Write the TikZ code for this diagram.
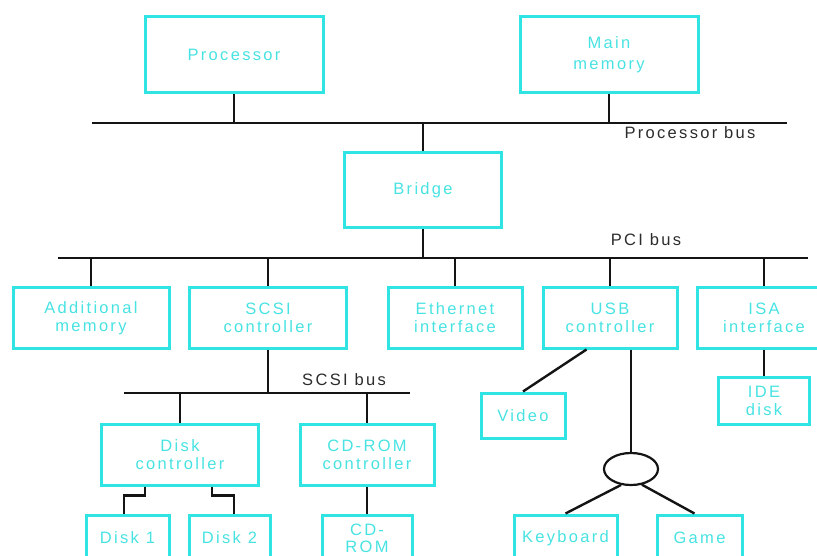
\documentclass[tikz,border=0pt]{standalone}
\usepackage{fontspec}
\setmainfont{Liberation Sans}[LetterSpace=14]
\usetikzlibrary{shapes.geometric,calc}
\definecolor{boxline}{RGB}{48,228,228}
\definecolor{boxtext}{RGB}{72,226,226}
\definecolor{wire}{RGB}{20,20,20}
\begin{document}
\begin{tikzpicture}[x=1pt,y=-1pt,
  unit/.style={draw=boxline, line width=3pt, text=boxtext, align=center,
    inner sep=0pt, font=\fontsize{16.5}{18}\selectfont},
  buslabel/.style={text=wire!90, font=\fontsize{16.5}{18}\selectfont, inner sep=0pt},
  link/.style={draw=wire, line width=2.4pt},
  busline/.style={draw=wire, line width=2.4pt}]
\useasboundingbox (0,0) rectangle (817,556);

% processor level
\node[unit, minimum width=178, minimum height=76] (proc) at (234,55) {Processor};
\node[unit, minimum width=178, minimum height=76, font=\fontsize{16.5}{21}\selectfont] (mem) at (609,55) {Main\\memory};
\coordinate (pbL) at (92,123);
\coordinate (pbR) at (787,123);
\draw[busline] (pbL) -- (pbR);
\node[buslabel] (pblabel) at (690,133) {Processor bus};

% bridge and PCI bus
\node[unit, minimum width=157, minimum height=75] (bridge) at (423,190.5) {Bridge};
\coordinate (pciL) at (58,258);
\coordinate (pciR) at (808,258);
\draw[busline] (pciL) -- (pciR);
\node[buslabel] (pcilabel) at (646,240) {PCI bus};

% PCI devices
\node[unit, minimum width=156, minimum height=60] (addmem) at (91,318) {Additional\\memory};
\node[unit, minimum width=157, minimum height=60] (scsi) at (268,318) {SCSI\\controller};
\node[unit, minimum width=134, minimum height=60] (eth) at (455,318) {Ethernet\\interface};
\node[unit, minimum width=134, minimum height=60] (usb) at (610,318) {USB\\controller};
\node[unit, minimum width=134, minimum height=60] (isa) at (764,318) {ISA\\interface};

% SCSI bus
\coordinate (scsiL) at (124,393);
\coordinate (scsiR) at (410,393);
\draw[busline] (scsiL) -- (scsiR);
\node[buslabel] (scsilabel) at (344,380) {SCSI bus};

\node[unit, minimum width=157, minimum height=61] (dctrl) at (180,454.5) {Disk\\controller};
\node[unit, minimum width=134, minimum height=61] (cdctrl) at (367,454.5) {CD-ROM\\controller};

\node[unit, minimum width=83, minimum height=46] (disk1) at (127.5,538) {Disk 1};
\node[unit, minimum width=81, minimum height=46] (disk2) at (229.5,538) {Disk 2};
\node[unit, minimum width=90, minimum height=46, font=\fontsize{16.5}{17}\selectfont] (cdrom) at (367,538) {CD-\\ROM};

% USB devices
\node[unit, minimum width=84, minimum height=45] (video) at (523,415.5) {Video};
\node[draw=wire, line width=2.2pt, ellipse, minimum width=54, minimum height=32, inner sep=0pt] (hub) at (631,469) {};
\node[unit, minimum width=103, minimum height=46] (kbd) at (565.5,538) {Keyboard};
\node[unit, minimum width=85, minimum height=46] (game) at (699.5,538) {Game};

% ISA device
\node[unit, minimum width=91, minimum height=47] (ide) at (764,400.5) {IDE\\disk};

% connections to processor bus
\draw[link] (proc.south) -- (proc.south |- pbL);
\draw[link] (mem.south) -- (mem.south |- pbL);
\draw[link] (bridge.north) -- (bridge.north |- pbL);

% connections to PCI bus
\draw[link] (bridge.south) -- (bridge.south |- pciL);
\foreach \n in {addmem,scsi,eth,usb,isa}
  \draw[link] (\n.north) -- (\n.north |- pciL);

% SCSI side
\draw[link] (scsi.south) -- (scsi.south |- scsiL);
\draw[link] (dctrl.north) -- (dctrl.north |- scsiL);
\draw[link] (cdctrl.north) -- (cdctrl.north |- scsiL);
\draw[link] ($(dctrl.south west)+(45,0)$) |- ($(disk1.north)+(-3.5,-18)$) -- ($(disk1.north)+(-3.5,0)$);
\draw[link] ($(dctrl.south west)+(112,0)$) |- ($(disk2.north)+(4.5,-18)$) -- ($(disk2.north)+(4.5,0)$);
\draw[link] (cdctrl.south) -- (cdrom.north);

% USB side
\draw[link] ($(usb.south west)+(45,0)$) -- (video.north);
\draw[link] (hub.north |- usb.south) -- (hub.north);
\draw[link] (hub.-122) -- ($(kbd.north west)+(53,0)$);
\draw[link] (hub.-55) -- ($(game.north west)+(39,0)$);

% ISA side
\draw[link] (isa.south) -- (ide.north);
\end{tikzpicture}
\end{document}
